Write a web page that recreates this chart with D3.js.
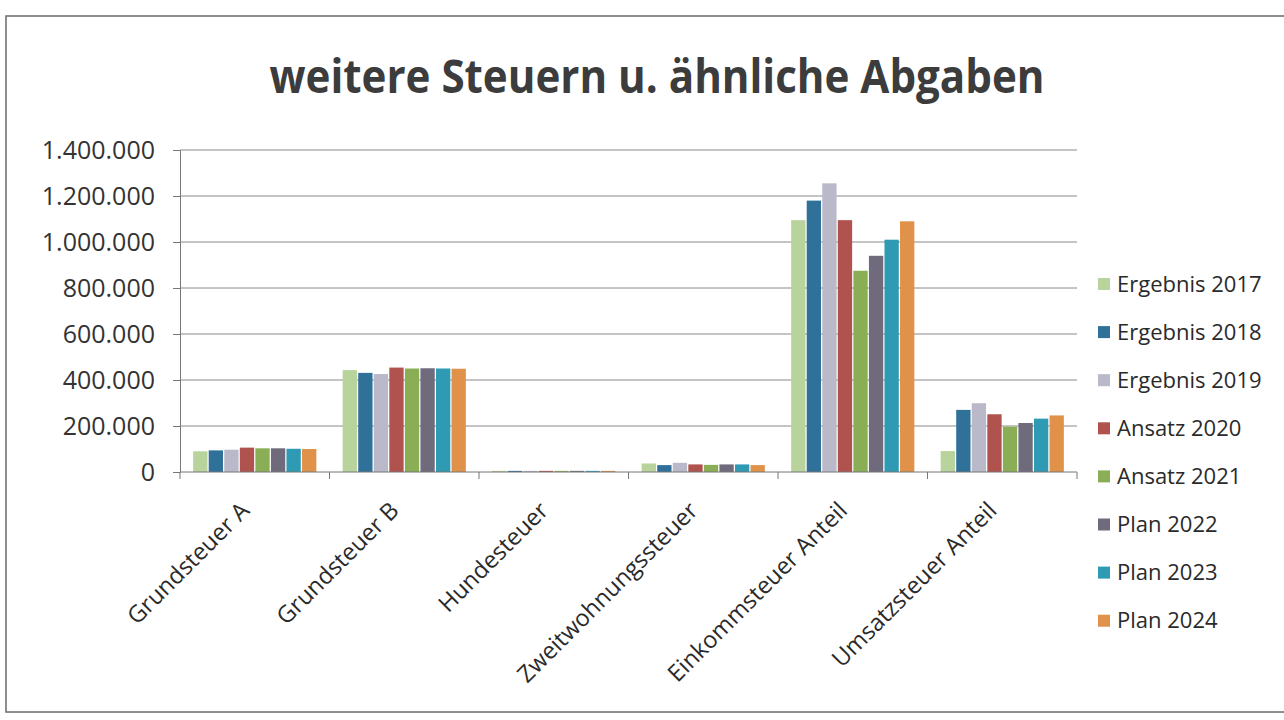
<!DOCTYPE html>
<html>
<head>
<meta charset="UTF-8">
<title>weitere Steuern u. ähnliche Abgaben</title>
<script src="https://d3js.org/d3.v7.min.js"></script>
<style>
	body { margin: 0; background: #fff; }
	svg text { font-family: "Open Sans", "Noto Sans", sans-serif; }
</style>
</head>
<body>
<div id="chart"></div>
<script>
// Kategorien (x-Achse)
var categories = ["Grundsteuer A", "Grundsteuer B", "Hundesteuer", "Zweitwohnungssteuer", "Einkommsteuer Anteil", "Umsatzsteuer Anteil"];
// Reihen (Legende)
var seriesNames = ["Ergebnis 2017", "Ergebnis 2018", "Ergebnis 2019", "Ansatz 2020", "Ansatz 2021", "Plan 2022", "Plan 2023", "Plan 2024"];
// Werte je Reihe, in Reihenfolge der Kategorien
var ergebnis2017 = [90000, 443000, 5000, 37000, 1095000, 91000];
var ergebnis2018 = [94000, 431000, 5000, 30000, 1180000, 270000];
var ergebnis2019 = [97000, 426000, 5000, 40000, 1255000, 299000];
var ansatz2020 = [106000, 454000, 5000, 33000, 1095000, 251000];
var ansatz2021 = [103000, 450000, 5000, 31000, 875000, 197000];
var plan2022 = [103000, 451000, 5000, 33000, 940000, 213000];
var plan2023 = [101000, 450000, 5000, 33000, 1010000, 232000];
var plan2024 = [100000, 449000, 5000, 30000, 1090000, 246000];
// y-Achse
var yTicks = [0, 200000, 400000, 600000, 800000, 1000000, 1200000, 1400000];

var seriesValues = [ergebnis2017, ergebnis2018, ergebnis2019, ansatz2020, ansatz2021, plan2022, plan2023, plan2024];
var colors = ["#b9d39d", "#2f7199", "#b9b9c9", "#b0524d", "#8aae56", "#6f6b7d", "#2e9ab4", "#e0924a"];

var width = 1284, height = 720;
var plot = {left: 180, right: 1077, top: 150, bottom: 472};

var de = d3.formatLocale({decimal: ",", thousands: ".", grouping: [3], currency: ["", " €"]});
var fmt = de.format(",d");

var svg = d3.select("#chart").append("svg")
	.attr("width", width)
	.attr("height", height);

// Rahmen
svg.append("rect")
	.attr("x", 6).attr("y", 16)
	.attr("width", 1290).attr("height", 696)
	.attr("fill", "none")
	.attr("stroke", "#6a6a6a")
	.attr("stroke-width", 1.5);

// Titel
svg.append("text")
	.attr("x", 657).attr("y", 93)
	.attr("text-anchor", "middle")
	.attr("font-size", 47)
	.attr("font-weight", "bold")
	.attr("fill", "#3c3c3c")
	.attr("textLength", 775)
	.attr("lengthAdjust", "spacingAndGlyphs")
	.text("weitere Steuern u. ähnliche Abgaben");

var x0 = d3.scaleBand().domain(categories).range([plot.left, plot.right]).paddingInner(0.176).paddingOuter(0.088);
var x1 = d3.scaleBand().domain(seriesNames).range([0, x0.bandwidth()]).paddingInner(0.08);
var y = d3.scaleLinear().domain([0, 1400000]).range([plot.bottom, plot.top]);

// Gitternetz
svg.append("g").selectAll("line")
	.data(yTicks.slice(1))
	.join("line")
	.attr("x1", plot.left).attr("x2", plot.right)
	.attr("y1", function(d){ return y(d); })
	.attr("y2", function(d){ return y(d); })
	.attr("stroke", "#8a8a8a")
	.attr("stroke-width", 1);

// y-Achse
var yAxis = svg.append("g")
	.attr("transform", "translate(" + plot.left + ",0)")
	.call(d3.axisLeft(y).tickValues(yTicks).tickFormat(fmt).tickSize(7).tickPadding(18));
yAxis.select(".domain").attr("stroke", "#777");
yAxis.selectAll(".tick line").attr("stroke", "#777");
yAxis.selectAll("text")
	.attr("font-size", 25)
	.attr("fill", "#333")
	.style("font-family", "'Open Sans', sans-serif");

// Balken
var groups = svg.append("g").selectAll("g.cat")
	.data(categories)
	.join("g")
	.attr("class", "cat")
	.attr("transform", function(d){ return "translate(" + x0(d) + ",0)"; });

groups.selectAll("rect")
	.data(function(d, i){
		return seriesNames.map(function(s, j){ return {s: s, v: seriesValues[j][i], c: colors[j]}; });
	})
	.join("rect")
	.attr("x", function(d){ return x1(d.s); })
	.attr("y", function(d){ return y(d.v); })
	.attr("width", x1.bandwidth())
	.attr("height", function(d){ return y(0) - y(d.v); })
	.attr("fill", function(d){ return d.c; });

// x-Achse (Teilstriche an den Kategoriegrenzen)
var bounds = categories.map(function(d){ return x0(d) - x0.step() * x0.paddingInner() / 2; });
bounds.push(plot.right);
svg.append("line")
	.attr("x1", plot.left).attr("x2", plot.right)
	.attr("y1", y(0)).attr("y2", y(0))
	.attr("stroke", "#777");
svg.append("g").selectAll("line")
	.data(bounds)
	.join("line")
	.attr("x1", function(d){ return d; }).attr("x2", function(d){ return d; })
	.attr("y1", y(0)).attr("y2", y(0) + 7)
	.attr("stroke", "#777");

// Kategorienbeschriftung, 45° gedreht
svg.append("g").selectAll("text")
	.data(categories)
	.join("text")
	.attr("transform", function(d){
		var cx = x0(d) + x0.bandwidth() / 2;
		return "translate(" + (cx - 4) + "," + (y(0) + 40) + ") rotate(-45)";
	})
	.attr("text-anchor", "end")
	.attr("font-size", 23.5)
	.attr("fill", "#2a2a2a")
	.text(function(d){ return d; });

// Legende
var legend = svg.append("g").selectAll("g")
	.data(seriesNames)
	.join("g")
	.attr("transform", function(d, i){ return "translate(1098," + (284 + i * 48.1) + ")"; });
legend.append("rect")
	.attr("x", 0).attr("y", -6)
	.attr("width", 12).attr("height", 12)
	.attr("fill", function(d, i){ return colors[i]; });
legend.append("text")
	.attr("x", 19).attr("y", 0)
	.attr("dy", "0.35em")
	.attr("font-size", 22)
	.attr("fill", "#2a2a2a")
	.text(function(d){ return d; });
</script>
</body>
</html>
